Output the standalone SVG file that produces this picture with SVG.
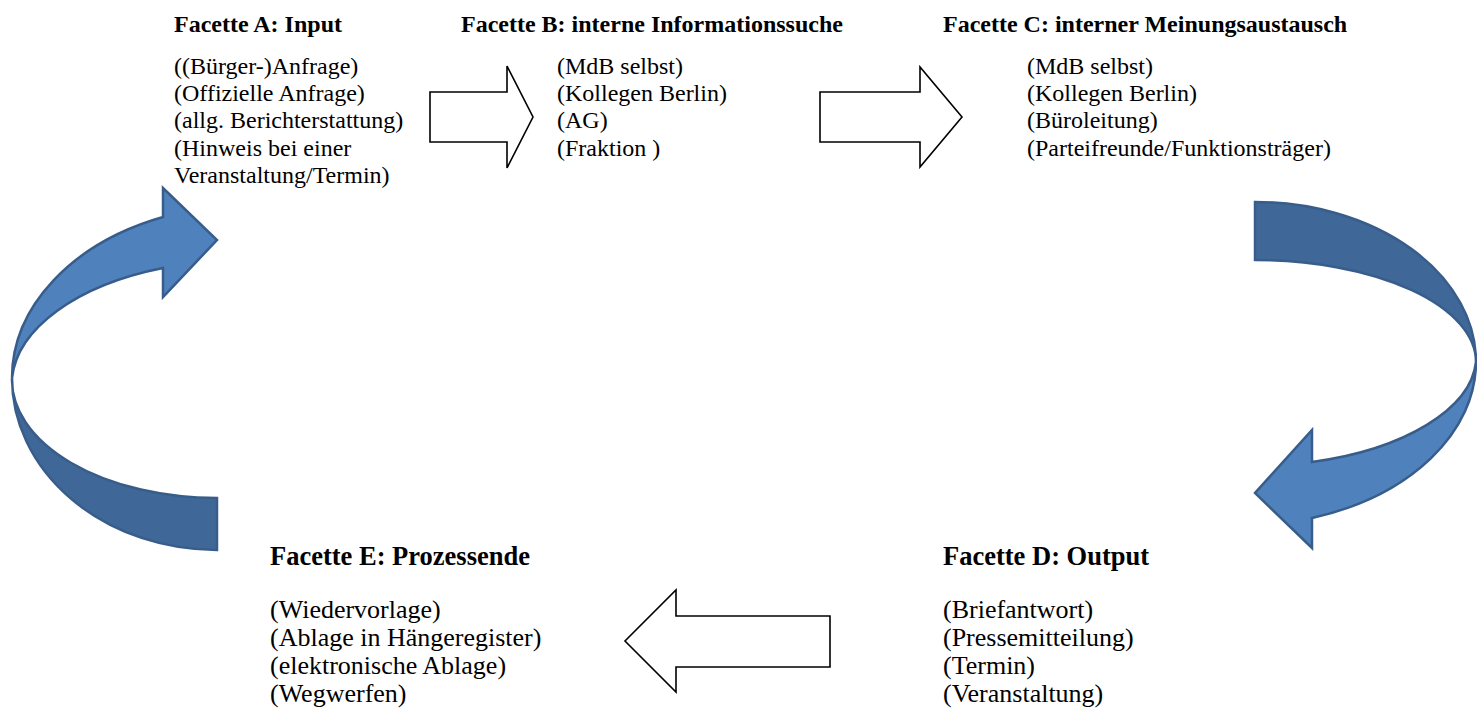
<svg xmlns="http://www.w3.org/2000/svg" width="1477" height="708" viewBox="0 0 1477 708">
<style>
.h{font-family:"Liberation Serif","Times New Roman",serif;font-weight:bold;font-size:24px;fill:#000}
.hb{font-family:"Liberation Serif","Times New Roman",serif;font-weight:bold;font-size:26.5px;fill:#000}
.t{font-family:"Liberation Serif","Times New Roman",serif;font-size:24px;fill:#000}
.tb{font-family:"Liberation Serif","Times New Roman",serif;font-size:26px;fill:#000}
.blk{fill:#fff;stroke:#000;stroke-width:1.6;stroke-linejoin:miter}
.lt{fill:#4F81BD;stroke:#385D8A;stroke-width:2.5;stroke-linejoin:miter}
.dk{fill:#3F6797;stroke:#385D8A;stroke-width:2.5;stroke-linejoin:miter}
</style>
<rect width="1477" height="708" fill="#fff"/>
<g id="connectors">
  <path class="blk" d="M430,92 L507,92 L507,66 L533,117 L507,168 L507,142 L430,142 Z"/>
  <path class="blk" d="M820,92 L920,92 L920,67 L962,117 L920,167 L920,142 L820,142 Z"/>
  <path class="blk" d="M830,616 L676,616 L676,590 L625,641 L676,692 L676,667 L830,667 Z"/>
  <g id="curve-left">
    <path class="dk" d="M217,550 A205,172 0 0 1 12,378 A205,118 0 0 0 217,498 Z"/>
    <path class="lt" d="M12,378 A238,173 0 0 1 163,217 L163,188 L217,240 L163,297 L163,268 A230,125 0 0 0 12,378 Z"/>
  </g>
  <g id="curve-right">
    <path class="dk" d="M1255,202 A221,160 0 0 1 1476,362 A221,102 0 0 0 1255,260 Z"/>
    <path class="lt" d="M1476,362 A236,164 0 0 1 1312,518 L1312,548 L1255,493 L1312,430 L1312,462 A225,110 0 0 0 1476,362 Z"/>
  </g>
</g>
<g id="nodeA">
  <text class="h" x="174" y="32">Facette A: Input</text>
  <text class="t" x="174" y="74">((Bürger-)Anfrage)</text>
  <text class="t" x="174" y="101">(Offizielle Anfrage)</text>
  <text class="t" x="174" y="128">(allg. Berichterstattung)</text>
  <text class="t" x="174" y="156">(Hinweis bei einer</text>
  <text class="t" x="174" y="183">Veranstaltung/Termin)</text>
</g>
<g id="nodeB">
  <text class="h" x="461" y="32">Facette B: interne Informationssuche</text>
  <text class="t" x="557" y="74">(MdB selbst)</text>
  <text class="t" x="557" y="101">(Kollegen Berlin)</text>
  <text class="t" x="557" y="128">(AG)</text>
  <text class="t" x="557" y="156">(Fraktion )</text>
</g>
<g id="nodeC">
  <text class="h" x="943" y="32">Facette C: interner Meinungsaustausch</text>
  <text class="t" x="1027" y="74">(MdB selbst)</text>
  <text class="t" x="1027" y="101">(Kollegen Berlin)</text>
  <text class="t" x="1027" y="128">(Büroleitung)</text>
  <text class="t" x="1027" y="156">(Parteifreunde/Funktionsträger)</text>
</g>
<g id="nodeD">
  <text class="hb" x="943" y="565">Facette D: Output</text>
  <text class="tb" x="943" y="618">(Briefantwort)</text>
  <text class="tb" x="943" y="646">(Pressemitteilung)</text>
  <text class="tb" x="943" y="674">(Termin)</text>
  <text class="tb" x="943" y="702">(Veranstaltung)</text>
</g>
<g id="nodeE">
  <text class="hb" x="270" y="565">Facette E: Prozessende</text>
  <text class="tb" x="270" y="618">(Wiedervorlage)</text>
  <text class="tb" x="270" y="646">(Ablage in Hängeregister)</text>
  <text class="tb" x="270" y="674">(elektronische Ablage)</text>
  <text class="tb" x="270" y="702">(Wegwerfen)</text>
</g>
</svg>
